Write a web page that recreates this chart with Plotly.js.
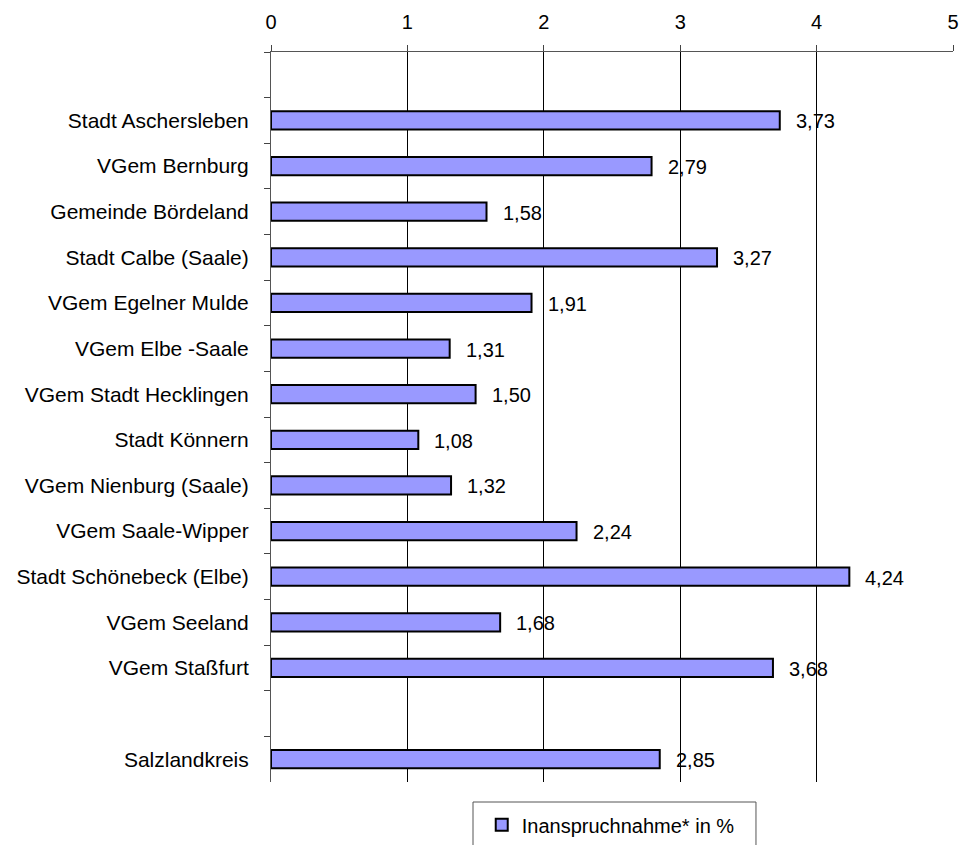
<!DOCTYPE html>
<html>
<head>
<meta charset="utf-8">
<script src="https://cdn.plot.ly/plotly-3.0.1.min.js"></script>
<style>
html,body{margin:0;padding:0;background:#fff;}
#chart{width:964px;height:845px;}
</style>
</head>
<body>
<div id="chart"></div>
<script>
// Categories (top to bottom); blank entries are empty slots in the original chart
var categories = [
  " ",
  "Stadt Aschersleben",
  "VGem Bernburg",
  "Gemeinde Bördeland",
  "Stadt Calbe (Saale)",
  "VGem Egelner Mulde",
  "VGem Elbe -Saale",
  "VGem Stadt Hecklingen",
  "Stadt Könnern",
  "VGem Nienburg (Saale)",
  "VGem Saale-Wipper",
  "Stadt Schönebeck (Elbe)",
  "VGem Seeland",
  "VGem Staßfurt",
  "  ",
  "Salzlandkreis"
];
var values = [null, 3.73, 2.79, 1.58, 3.27, 1.91, 1.31, 1.50, 1.08, 1.32, 2.24, 4.24, 1.68, 3.68, null, 2.85];
var seriesName = "Inanspruchnahme* in %";
var xTicks = [0, 1, 2, 3, 4, 5];

var FONT = "Liberation Sans, Arial, sans-serif";

var annotations = [];
for (var i = 0; i < categories.length; i++) {
  if (values[i] === null) continue;
  annotations.push({
    x: values[i], y: categories[i], xref: "x", yref: "y",
    text: values[i].toFixed(2).replace(".", ","),
    showarrow: false, xanchor: "left", yanchor: "middle",
    xshift: 14, yshift: -1,
    font: {family: FONT, size: 20, color: "#000"}
  });
}

var trace = {
  type: "bar",
  orientation: "h",
  name: seriesName,
  x: values,
  y: categories,
  width: 0.4,
  marker: {color: "#9999FF", line: {color: "#000", width: 2}},
  hoverinfo: "x+y"
};

var layout = {
  width: 964, height: 845,
  margin: {l: 271, r: 11, t: 52, b: 63, pad: 0, autoexpand: false},
  paper_bgcolor: "#fff", plot_bgcolor: "#fff",
  font: {family: FONT, size: 20, color: "#000"},
  showlegend: true,
  legend: {
    orientation: "h", x: 0.309, y: 0.047, xref: "paper", yref: "container",
    xanchor: "left", yanchor: "top",
    bgcolor: "rgba(0,0,0,0)", borderwidth: 0,
    font: {family: FONT, size: 20, color: "#000"}
  },
  xaxis: {
    side: "top", range: [0, 5], tickvals: xTicks,
    ticks: "outside", ticklen: 6, tickcolor: "#444",
    showline: true, linecolor: "#555", linewidth: 1,
    showgrid: true, gridcolor: "#000", gridwidth: 1,
    zeroline: false, fixedrange: true,
    tickfont: {family: FONT, size: 20, color: "#000"},
    ticklabelstandoff: 8
  },
  yaxis: {
    type: "category", categoryorder: "array", categoryarray: categories,
    range: [categories.length - 0.5, -0.5],
    tickson: "boundaries", ticks: "outside", ticklen: 6, tickcolor: "#444",
    showline: true, linecolor: "#555", linewidth: 1,
    showgrid: false, zeroline: false, fixedrange: true,
    tickfont: {family: FONT, size: 21, color: "#000"},
    ticklabelstandoff: 17
  },
  annotations: annotations,
  shapes: [{
    type: "rect", xref: "paper", yref: "paper",
    x0: 0.2962, x1: 0.7111, y0: -0.0274, y1: -0.12,
    line: {color: "#555", width: 1}, fillcolor: "rgba(0,0,0,0)", layer: "above"
  }]
};

Plotly.newPlot("chart", [trace], layout, {displayModeBar: false, staticPlot: true});
</script>
</body>
</html>
